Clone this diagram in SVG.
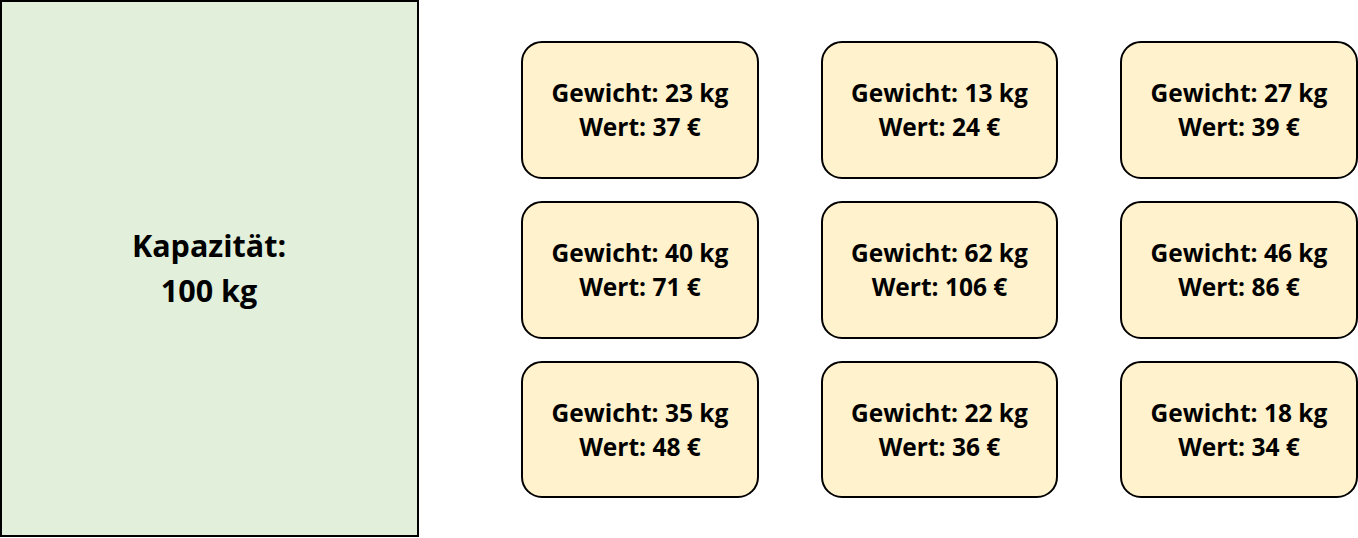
<svg xmlns="http://www.w3.org/2000/svg" width="1358" height="538" viewBox="0 0 1358 538">
<style>
.box{fill:#FFF2CC;stroke:#000;stroke-width:2}
.t{font-family:"Open Sans","Noto Sans",sans-serif;font-weight:bold;font-size:24.5px;fill:#000;text-anchor:middle}
.big{font-size:30.5px}
</style>
<rect width="1358" height="538" fill="#fff"/>
<g id="knapsack">
<rect x="1" y="1" width="417" height="535" fill="#E2EFDA" stroke="#000" stroke-width="2"/>
<text class="t big" x="209" y="257">Kapazität:</text>
<text class="t big" x="209" y="302">100 kg</text>
</g>
<g id="item1"><rect class="box" x="522" y="42" width="236" height="136" rx="20"/><text class="t" x="640" y="102">Gewicht: 23 kg</text><text class="t" x="640" y="136">Wert: 37 €</text></g>
<g id="item2"><rect class="box" x="822" y="42" width="235" height="136" rx="20"/><text class="t" x="939.5" y="102">Gewicht: 13 kg</text><text class="t" x="939.5" y="136">Wert: 24 €</text></g>
<g id="item3"><rect class="box" x="1121" y="42" width="236" height="136" rx="20"/><text class="t" x="1239" y="102">Gewicht: 27 kg</text><text class="t" x="1239" y="136">Wert: 39 €</text></g>
<g id="item4"><rect class="box" x="522" y="202" width="236" height="136" rx="20"/><text class="t" x="640" y="262">Gewicht: 40 kg</text><text class="t" x="640" y="296">Wert: 71 €</text></g>
<g id="item5"><rect class="box" x="822" y="202" width="235" height="136" rx="20"/><text class="t" x="939.5" y="262">Gewicht: 62 kg</text><text class="t" x="939.5" y="296">Wert: 106 €</text></g>
<g id="item6"><rect class="box" x="1121" y="202" width="236" height="136" rx="20"/><text class="t" x="1239" y="262">Gewicht: 46 kg</text><text class="t" x="1239" y="296">Wert: 86 €</text></g>
<g id="item7"><rect class="box" x="522" y="362" width="236" height="135" rx="20"/><text class="t" x="640" y="422">Gewicht: 35 kg</text><text class="t" x="640" y="456">Wert: 48 €</text></g>
<g id="item8"><rect class="box" x="822" y="362" width="235" height="135" rx="20"/><text class="t" x="939.5" y="422">Gewicht: 22 kg</text><text class="t" x="939.5" y="456">Wert: 36 €</text></g>
<g id="item9"><rect class="box" x="1121" y="362" width="236" height="135" rx="20"/><text class="t" x="1239" y="422">Gewicht: 18 kg</text><text class="t" x="1239" y="456">Wert: 34 €</text></g>
<g id="connectors"/>
</svg>
